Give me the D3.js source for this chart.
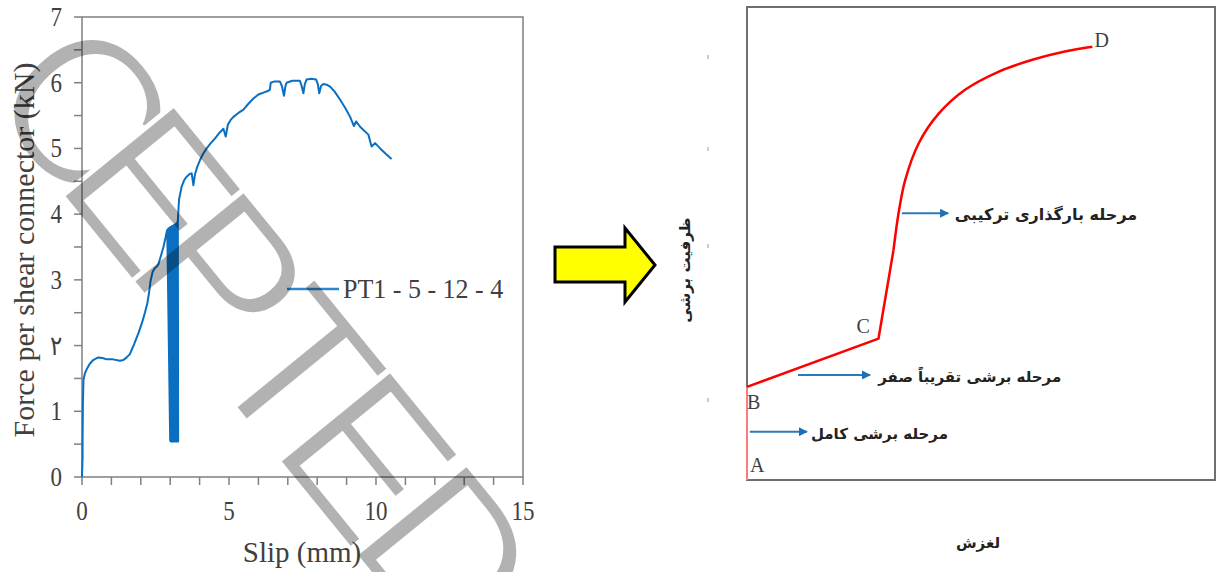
<!DOCTYPE html>
<html lang="en">
<head>
  <meta charset="UTF-8">
  <title>Push-out test and shear stages</title>
  <script src="https://d3js.org/d3.v7.min.js"></script>
  <style>
    body { margin: 0; background: #fff; }
    svg { display: block; }
    .serif { font-family: "Liberation Serif", "Times New Roman", serif; fill: #404040; }
    .fa { font-family: "DejaVu Sans", sans-serif; font-weight: bold; fill: #222; }
    .axis-line { stroke: #808080; stroke-width: 1.5; fill: none; }
  </style>
</head>
<body>
  <script>
    // left chart: load-slip curve (slip in mm, force in kN)
    const slip = [0, 0.02, 0.02, 0.03, 0.05, 0.1, 0.16, 0.26, 0.38, 0.55, 0.7, 0.84, 1.05, 1.29, 1.41, 1.52, 1.63, 1.78, 1.92, 2.05, 2.14, 2.22, 2.28, 2.33, 2.4, 2.48, 2.54, 2.6, 2.68, 2.77, 2.84, 2.88,
      2.9, 3.0, 2.92, 3.02, 2.94, 3.04, 2.96, 3.06, 2.98, 3.08, 3.0, 3.1, 3.03, 3.12, 3.06, 3.14, 3.09, 3.16, 3.12, 3.18, 3.15, 3.2, 3.18, 3.22, 3.21, 3.24, 3.24, 3.27, 3.26,
      3.28, 3.3, 3.39, 3.48, 3.56, 3.66, 3.73, 3.79, 3.84, 3.92, 4.01, 4.12, 4.24, 4.38, 4.52, 4.66, 4.81, 4.89, 4.96, 5.05, 5.15, 5.32, 5.49, 5.66, 5.83, 6.0, 6.17, 6.3, 6.39,
      6.42, 6.55, 6.73, 6.8, 6.87, 6.92, 6.96, 7.15, 7.41, 7.47, 7.53, 7.58, 7.64, 7.8, 7.96, 8.02, 8.07, 8.13, 8.21, 8.32, 8.44, 8.6, 8.78, 8.95, 9.12, 9.25, 9.32, 9.46, 9.6, 9.74, 9.85, 9.97, 10.14, 10.33, 10.53];
    const force = [0, 0.3, 0.56, 1.1, 1.48, 1.58, 1.64, 1.72, 1.78, 1.82, 1.81, 1.79, 1.79, 1.77, 1.78, 1.82, 1.87, 2.03, 2.19, 2.36, 2.5, 2.64, 2.8, 2.98, 3.12, 3.18, 3.2, 3.24, 3.36, 3.5, 3.64, 3.73,
      3.76, 0.55, 3.77, 0.54, 3.78, 0.55, 3.79, 0.54, 3.79, 0.55, 3.8, 0.54, 3.81, 0.55, 3.82, 0.54, 3.82, 0.55, 3.83, 0.54, 3.84, 0.55, 3.85, 0.54, 3.86, 0.55, 3.88, 0.54, 3.9,
      4.06, 4.22, 4.42, 4.52, 4.57, 4.61, 4.62, 4.44, 4.6, 4.72, 4.82, 4.92, 5.0, 5.08, 5.15, 5.23, 5.3, 5.18, 5.36, 5.43, 5.48, 5.54, 5.59, 5.68, 5.76, 5.82, 5.85, 5.87, 5.89,
      6.0, 6.02, 6.02, 5.95, 5.8, 5.95, 6.0, 6.03, 6.03, 5.95, 5.84, 5.98, 6.05, 6.06, 6.05, 5.98, 5.84, 5.95, 5.98, 5.97, 5.94, 5.86, 5.74, 5.62, 5.48, 5.34, 5.41, 5.33, 5.27, 5.21, 5.03, 5.08, 5.0, 4.92, 4.84];
    const seriesName = 'PT1 - 5 - 12 - 4';
    const xTickValues = [0, 1, 2, 3, 4, 5, 6, 7, 8, 9, 10, 11, 12, 13, 14, 15];
    const xTickLabels = ['0', '5', '10', '15'];
    const yTickValues = [0, 0.5, 1, 1.5, 2, 2.5, 3, 3.5, 4, 4.5, 5, 5.5, 6, 6.5, 7];
    const yTickLabels = ['0', '1', '۲', '3', '4', '5', '6', '7'];

    // right chart: conceptual curve A-B-C-D (relative units 0..100)
    const stageX = [0, 0, 28.1, 31.3, 32.4, 33.8, 36.7, 41.0, 46.6, 53.7, 60.8, 67.9, 73.8];
    const stageY = [0, 19.7, 29.9, 48.6, 56.5, 63.4, 71.2, 77.5, 82.5, 86.3, 88.8, 90.6, 91.6];
    const pointNames = ['A', 'B', 'C', 'D'];
    const pointIndex = [0, 1, 2, 12];
    const stageLabels = ['مرحله بارگذاری ترکیبی', 'مرحله برشی تقریباً صفر', 'مرحله برشی کامل'];
    const stageArrowFrom = [33.1, 10.9, 0.6];
    const stageArrowTo = [43.0, 26.3, 12.8];
    const stageArrowY = [56.4, 22.2, 10.2];
    const stageTextX = [63.9, 47.6, 28.3];

    const watermark = ['C', 'E', 'P', 'T', 'E', 'D'];
    const watermarkPos = [137, 244, 354, 473, 586, 713];

    const width = 1217, height = 572;
    const svg = d3.select('body').append('svg')
      .attr('width', width)
      .attr('height', height);
    const defs = svg.append('defs');

    // ---------- left chart ----------
    const x = d3.scaleLinear().domain([0, 15]).range([82, 523]);
    const y = d3.scaleLinear().domain([0, 7]).range([477, 17]);
    const left = svg.append('g');

    left.append('path').attr('class', 'axis-line')
      .attr('d', `M${x(0)},${y(0)}V${y(7)}H${x(15)}V${y(0)}Z`);

    left.selectAll('.xt').data(xTickValues).enter().append('line')
      .attr('class', 'axis-line')
      .attr('x1', d => x(d)).attr('x2', d => x(d))
      .attr('y1', y(0)).attr('y2', y(0) + 8);
    left.selectAll('.yt').data(yTickValues).enter().append('line')
      .attr('class', 'axis-line')
      .attr('x1', x(0) - 8).attr('x2', x(0))
      .attr('y1', d => y(d)).attr('y2', d => y(d));

    left.selectAll('.xl').data(xTickLabels).enter().append('text')
      .attr('class', 'serif')
      .attr('text-anchor', 'middle')
      .attr('font-size', 23)
      .attr('transform', d => `translate(${x(+d)},520) scale(1,1.18)`)
      .text(d => d);
    left.selectAll('.yl').data(yTickLabels).enter().append('text')
      .attr('class', 'serif')
      .attr('text-anchor', 'end')
      .attr('font-size', 23)
      .attr('transform', (d, i) => `translate(62,${y(i) + 9}) scale(1,1.18)`)
      .text(d => d);

    left.append('text').attr('class', 'serif')
      .attr('text-anchor', 'middle').attr('font-size', 29)
      .attr('x', 302).attr('y', 562)
      .text('Slip (mm)');
    left.append('text').attr('class', 'serif')
      .attr('text-anchor', 'middle').attr('font-size', 30)
      .attr('transform', 'translate(34,250) rotate(-90)')
      .text('Force per shear connector (kN)');

    const line = d3.line()
      .x(i => x(slip[i]))
      .y(i => y(force[i]));
    left.append('path')
      .attr('d', line(d3.range(slip.length)))
      .attr('fill', 'none')
      .attr('stroke', '#0b6fc1')
      .attr('stroke-width', 2)
      .attr('stroke-linejoin', 'round');

    // legend
    left.append('line')
      .attr('x1', 287).attr('x2', 339).attr('y1', 289).attr('y2', 289)
      .attr('stroke', '#2f86cf').attr('stroke-width', 2.5);
    left.append('text').attr('class', 'serif')
      .attr('font-size', 26)
      .attr('transform', 'translate(343,298) scale(1,1.05)')
      .text(seriesName);

    // ---------- yellow arrow ----------
    svg.append('polygon')
      .attr('points', '555,247 625,247 625,228 655,265 625,302 625,282 555,282')
      .attr('fill', '#ffff00')
      .attr('stroke', '#000')
      .attr('stroke-width', 3)
      .attr('stroke-linejoin', 'miter');

    // ---------- right chart ----------
    const sx = d3.scaleLinear().domain([0, 100]).range([747, 1215]);
    const sy = d3.scaleLinear().domain([0, 100]).range([480, 7]);
    const right = svg.append('g');

    defs.append('marker')
      .attr('id', 'head')
      .attr('viewBox', '0 0 10 10')
      .attr('refX', 9).attr('refY', 5)
      .attr('markerWidth', 5).attr('markerHeight', 5)
      .attr('markerUnits', 'strokeWidth')
      .attr('orient', 'auto')
      .append('path').attr('d', 'M0,0L10,5L0,10Z').attr('fill', '#1f6fb8');

    right.append('rect')
      .attr('x', sx(0)).attr('y', sy(100))
      .attr('width', sx(100) - sx(0)).attr('height', sy(0) - sy(100))
      .attr('fill', 'none').attr('stroke', '#6f6f6f').attr('stroke-width', 2);

    [55, 147, 244, 398].forEach(v => {
      right.append('rect').attr('x', 707).attr('y', v).attr('width', 2).attr('height', 4).attr('fill', '#ccc');
    });

    const sLine = d3.line().x(i => sx(stageX[i])).y(i => sy(stageY[i]));
    right.append('path')
      .attr('d', sLine([0, 1]))
      .attr('fill', 'none').attr('stroke', '#ff7a7a').attr('stroke-width', 2);
    right.append('path')
      .attr('d', sLine([1, 2, 3]))
      .attr('fill', 'none').attr('stroke', '#ff0000').attr('stroke-width', 2.5)
      .attr('stroke-linejoin', 'miter');
    right.append('path')
      .attr('d', sLine.curve(d3.curveCatmullRom)([3, 4, 5, 6, 7, 8, 9, 10, 11, 12]))
      .attr('fill', 'none').attr('stroke', '#ff0000').attr('stroke-width', 2.5);

    const nameOffset = [[3, -8], [0, 22], [-22, -6], [2, 0]];
    right.selectAll('.pn').data(pointNames).enter().append('text')
      .attr('class', 'serif')
      .attr('font-size', 20)
      .attr('fill', '#333')
      .attr('x', (d, i) => sx(stageX[pointIndex[i]]) + nameOffset[i][0])
      .attr('y', (d, i) => sy(stageY[pointIndex[i]]) + nameOffset[i][1])
      .text(d => d);

    stageLabels.forEach((t, i) => {
      right.append('line')
        .attr('x1', sx(stageArrowFrom[i])).attr('x2', sx(stageArrowTo[i]))
        .attr('y1', sy(stageArrowY[i])).attr('y2', sy(stageArrowY[i]))
        .attr('stroke', '#2a78c0').attr('stroke-width', 1.8)
        .attr('marker-end', 'url(#head)');
      right.append('text').attr('class', 'fa')
        .attr('font-size', i === 0 ? 16 : 15)
        .attr('text-anchor', 'middle')
        .attr('x', sx(stageTextX[i]))
        .attr('y', sy(stageArrowY[i]) + 7)
        .text(t);
    });

    right.append('text').attr('class', 'fa')
      .attr('font-size', 15).attr('text-anchor', 'middle')
      .attr('x', 978).attr('y', 548)
      .text('لغزش');
    right.append('text').attr('class', 'fa')
      .attr('font-size', 15).attr('text-anchor', 'middle')
      .attr('transform', 'translate(690,270) rotate(-90)')
      .text('ظرفیت برشی');

    // ---------- watermark (thinned with a mask) ----------
    const angle = 50.8 * Math.PI / 180;
    const mask = defs.append('mask').attr('id', 'wm')
      .attr('maskUnits', 'userSpaceOnUse')
      .attr('x', 0).attr('y', 0).attr('width', width).attr('height', height);
    mask.selectAll('text').data(watermark).enter().append('text')
      .attr('transform', (d, i) => `translate(${watermarkPos[i] * Math.cos(angle)},${watermarkPos[i] * Math.sin(angle)}) rotate(50.8)`)
      .attr('text-anchor', 'middle')
      .attr('dy', '0.36em')
      .attr('font-family', '"Liberation Sans Narrow", "Liberation Sans", sans-serif')
      .attr('font-size', 210)
      .attr('fill', '#fff')
      .attr('stroke', '#000')
      .attr('stroke-width', 5)
      .text(d => d);
    svg.append('rect')
      .attr('width', width).attr('height', height)
      .attr('fill', '#000').attr('fill-opacity', 0.3)
      .attr('mask', 'url(#wm)');
  </script>
</body>
</html>
